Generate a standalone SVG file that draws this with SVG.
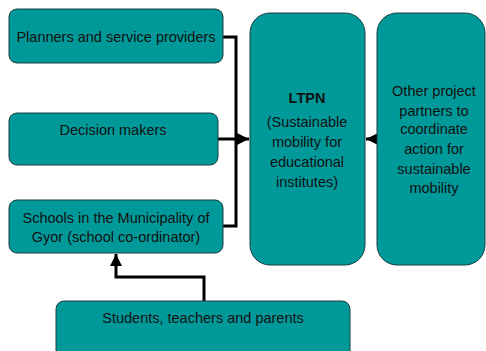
<svg xmlns="http://www.w3.org/2000/svg" width="486" height="351" viewBox="0 0 486 351">
<defs>
<style>
.box{fill:#009999;stroke:#1f3f3f;stroke-width:1}
.t{font-family:"Liberation Sans",Arial,sans-serif;font-size:14.5px;fill:#111;text-anchor:middle}
.b{font-weight:bold}
.c{fill:none;stroke:#000;stroke-width:3}
</style>
<marker id="ah" viewBox="0 0 10 10" refX="10" refY="5" markerWidth="4" markerHeight="4" orient="auto" markerUnits="strokeWidth">
<path d="M0,0 L10,5 L0,10 z" fill="#000"/>
</marker>
</defs>
<rect width="486" height="351" fill="#fff"/>
<g id="connectors">
<polyline class="c" points="223,37 236,37 236,226 223,226"/>
<line class="c" x1="218" y1="139" x2="249" y2="139" marker-end="url(#ah)"/>
<line class="c" x1="377" y1="139" x2="366" y2="139" marker-end="url(#ah)"/>
<polyline class="c" points="204,301 204,277 116,277 116,254" marker-end="url(#ah)"/>
</g>
<g id="planners">
<rect class="box" x="9" y="9" width="214" height="54" rx="8"/>
<text class="t" x="116" y="42">Planners and service providers</text>
</g>
<g id="decision">
<rect class="box" x="9" y="113" width="209" height="52" rx="8"/>
<text class="t" x="113" y="135">Decision makers</text>
</g>
<g id="schools">
<rect class="box" x="9" y="200" width="214" height="53" rx="8"/>
<text class="t" x="116" y="223">Schools in the Municipality of</text>
<text class="t" x="116" y="242">Gyor (school co-ordinator)</text>
</g>
<g id="ltpn">
<rect class="box" x="250" y="13" width="115" height="252" rx="20"/>
<text class="t b" x="307" y="103">LTPN</text>
<text class="t" x="307" y="127">(Sustainable</text>
<text class="t" x="307" y="147">mobility for</text>
<text class="t" x="307" y="167">educational</text>
<text class="t" x="307" y="187">institutes)</text>
</g>
<g id="other">
<rect class="box" x="377" y="13" width="108" height="252" rx="20"/>
<text class="t" x="434" y="96">Other project</text>
<text class="t" x="434" y="116">partners to</text>
<text class="t" x="434" y="134">coordinate</text>
<text class="t" x="434" y="154">action for</text>
<text class="t" x="434" y="174">sustainable</text>
<text class="t" x="434" y="193">mobility</text>
</g>
<g id="students">
<rect class="box" x="56" y="301" width="294" height="60" rx="8"/>
<text class="t" x="203" y="323">Students, teachers and parents</text>
</g>
</svg>
